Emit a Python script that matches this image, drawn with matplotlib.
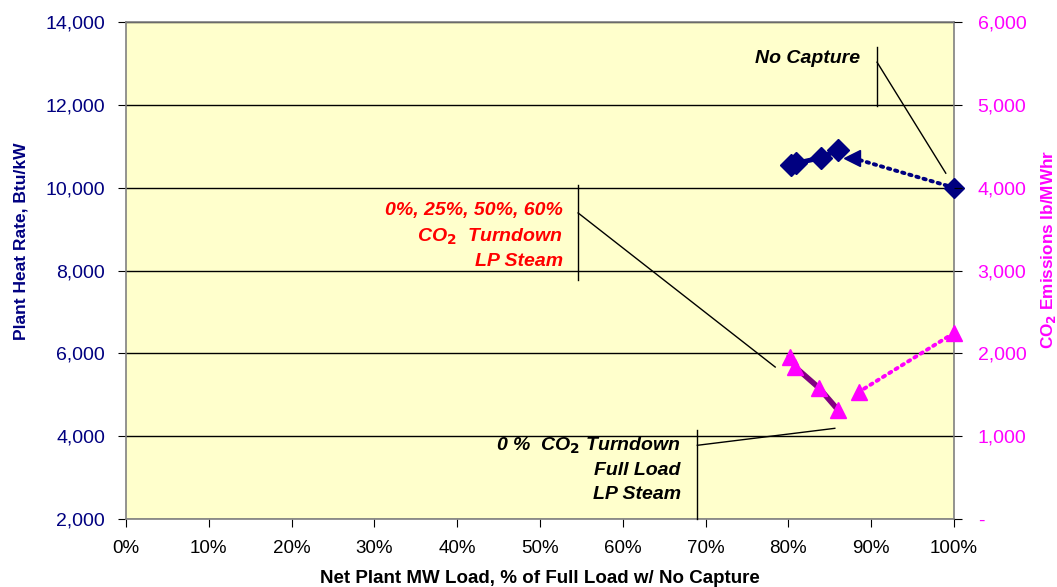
import matplotlib
matplotlib.use("Agg")
import matplotlib.pyplot as plt
from matplotlib.ticker import FuncFormatter

plt.rcParams['font.family'] = ['Liberation Sans', 'DejaVu Sans']

# ---- data ----
# Heat rate, turndown cases (solid)
hr_load = [80.3, 80.9, 83.9, 86.0]
hr_vals = [10550, 10590, 10720, 10920]
# Heat rate, no capture -> full load capture (dotted)
hr_nc_load = [100.0, 87.7]
hr_nc_vals = [10000, 10720]
# CO2 emissions, turndown cases (solid)
co2_load = [80.2, 80.8, 83.7, 86.0]
co2_vals = [1957, 1836, 1582, 1316]
# CO2 emissions, no capture -> full load capture (dotted)
co2_nc_load = [100.0, 88.5]
co2_nc_vals = [2246, 1534]

x_ticks = [0, 10, 20, 30, 40, 50, 60, 70, 80, 90, 100]
hr_ticks = [2000, 4000, 6000, 8000, 10000, 12000, 14000]
co2_ticks = [0, 1000, 2000, 3000, 4000, 5000, 6000]

NAVY = '#000080'
MAG = '#FF00FF'
PURP = '#800080'

fig = plt.figure(figsize=(10.57, 5.87), dpi=100)
ax = fig.add_axes([0.1192, 0.1158, 0.7834, 0.8467])
ax.set_facecolor('#FFFFCC')
ax.set_xlim(0, 100)
ax.set_ylim(2000, 14000)
ax.set_xticks(x_ticks)
ax.set_yticks(hr_ticks)
ax.xaxis.set_major_formatter(FuncFormatter(lambda v, p: f"{int(v)}%"))
ax.yaxis.set_major_formatter(FuncFormatter(lambda v, p: f"{int(v):,}"))
ax.yaxis.grid(True, color='black', lw=1.0)
ax.set_axisbelow(True)
for s in ax.spines.values():
    s.set_color('#808080')
    s.set_linewidth(1.2)
ax.tick_params(axis='y', labelcolor=NAVY, labelsize=14, direction='out', length=6,
               color='black', pad=9)
ax.tick_params(axis='x', labelcolor='black', labelsize=13.5, direction='out', length=6,
               color='black', pad=9)
ax.set_xlabel('Net Plant MW Load, % of Full Load w/ No Capture', fontsize=13.5,
              fontweight='bold', va='center')
ax.xaxis.set_label_coords(0.5, -0.119)
ax.set_ylabel('Plant Heat Rate, Btu/kW', fontsize=12.5, fontweight='bold', color=NAVY,
              va='center')
ax.yaxis.set_label_coords(-0.127, 0.558)

# callout lines (in data coords of heat-rate axis)
lk = dict(color='black', lw=1.0, zorder=3, clip_on=False)
ax.plot([90.7, 90.7], [11970, 13400], **lk)
ax.plot([90.7, 99.0], [13030, 10350], **lk)
ax.plot([54.6, 54.6], [7770, 10060], **lk)
ax.plot([54.6, 78.4], [9390, 5670], **lk)
ax.plot([69.0, 69.0], [2000, 4145], **lk)
ax.plot([69.0, 85.6], [3780, 4190], **lk)

tk = dict(fontsize=14, fontweight='bold', fontstyle='italic', ha='right', va='center',
          linespacing=1.5)
ax.text(88.6, 13110, 'No Capture', color='black', **tk)
ax.text(52.8, 8830, '0%, 25%, 50%, 60%\nCO$_{\\mathbf{2}}$  Turndown\nLP Steam',
        color='#FF0000', **tk)
ax.text(67.0, 3200, '0 %  CO$_{\\mathbf{2}}$ Turndown\nFull Load\nLP Steam',
        color='black', **tk)

# heat rate series
ax.plot(hr_nc_load, hr_nc_vals, color=NAVY, lw=2.8, linestyle=(0, (0.6, 1.3)),
        dash_capstyle='round', zorder=4)
ax.plot(hr_nc_load[:1], hr_nc_vals[:1], 'D', color=NAVY, ms=10, zorder=5, clip_on=False)
ax.plot(hr_nc_load[1:], hr_nc_vals[1:], '<', color=NAVY, ms=12, zorder=5)
ax.plot(hr_load, hr_vals, '-D', color=NAVY, lw=3.5, ms=11, zorder=5)

# CO2 axis
ax2 = ax.twinx()
ax2.set_ylim(0, 6000)
ax2.set_yticks(co2_ticks)
ax2.yaxis.set_major_formatter(FuncFormatter(lambda v, p: '-' if v == 0 else f"{int(v):,}"))
ax2.tick_params(axis='y', labelcolor=MAG, labelsize=14, direction='out', length=6,
                color='black', pad=11)
for s in ax2.spines.values():
    s.set_visible(False)
ax2.set_ylabel('CO$_{\\mathbf{2}}$ Emissions lb/MWhr', fontsize=12.3, fontweight='bold',
               color=MAG, va='center')
ax2.yaxis.set_label_coords(1.1135, 0.543)

ax2.plot(co2_nc_load, co2_nc_vals, color=MAG, lw=2.8, linestyle=(0, (0.6, 1.3)),
         dash_capstyle='round', zorder=4)
ax2.plot(co2_nc_load, co2_nc_vals, '^', color=MAG, ms=12, zorder=5, clip_on=False)
ax2.plot(co2_load, co2_vals, '-', color=PURP, lw=4, zorder=4)
ax2.plot(co2_load, co2_vals, '^', color=MAG, ms=12, zorder=5)

fig.savefig('out.png', dpi=100)
